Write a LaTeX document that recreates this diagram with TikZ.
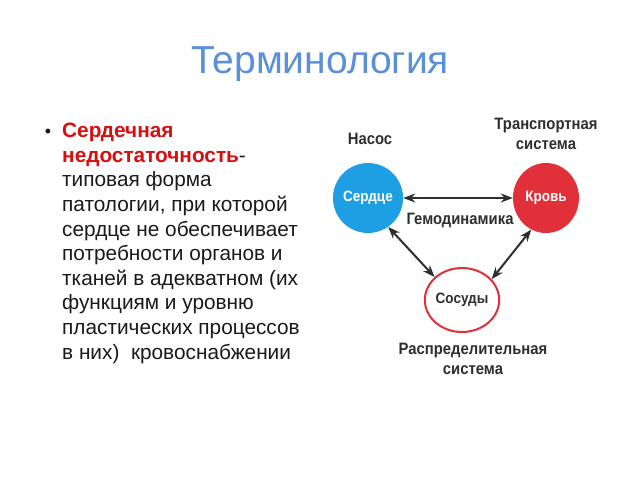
\documentclass[tikz,border=0pt]{standalone}
\usepackage{fontspec}
\setmainfont{Liberation Sans}
\newfontfamily\diagfont[FakeStretch=0.9]{Liberation Sans}
\usetikzlibrary{arrows.meta,shapes.geometric}
\definecolor{titleblue}{HTML}{5B8FD8}
\definecolor{hred}{HTML}{D80F0F}
\definecolor{cblue}{HTML}{1E9FE3}
\definecolor{cred}{HTML}{E2303A}
\definecolor{dtext}{HTML}{2E2E2E}
\definecolor{btext}{HTML}{1A1A1A}
\tikzset{
  lbl/.style={font=\diagfont\bfseries\fontsize{16.5}{20}\selectfont, text=dtext, align=center, inner sep=0pt},
  circ/.style={ellipse, inner sep=0pt, font=\diagfont\bfseries\fontsize{15}{18}\selectfont},
  conn/.style={{Stealth[length=12pt,width=9pt]}-{Stealth[length=12pt,width=9pt]}, line width=2pt, draw=dtext},
}
\begin{document}
\begin{tikzpicture}[x=1pt,y=-1pt]
\useasboundingbox (0,0) rectangle (640,480);
\fill[white] (0,0) rectangle (640,480);
\node[anchor=base, text=titleblue, font=\fontsize{39}{44}\selectfont, inner sep=0pt] (title) at (320,73) {Терминология};
\node[anchor=base, font=\fontsize{18}{22}\selectfont, inner sep=0pt, text=btext] (bul) at (48,137) {•};
\node[anchor=base west, inner sep=0pt, align=left, text=btext, font=\fontsize{20.8}{24.6}\selectfont] (txt) at (62,359)
{\textcolor{hred}{\bfseries Сердечная}\\
\textcolor{hred}{\bfseries недостаточность}-\\
типовая форма\\
патологии, при которой\\
сердце не обеспечивает\\
потребности органов и\\
тканей в адекватном (их\\
функциям и уровню\\
пластических процессов\\
в них)\ \ кровоснабжении};
% circles
\node[circ, minimum width=66pt, minimum height=70pt, fill=cblue, text=white] (heart) at (368,198) {Сердце};
\node[circ, minimum width=66pt, minimum height=70pt, fill=cred, text=white] (blood) at (546,198) {Кровь};
\node[circ, minimum width=60pt, minimum height=64pt, draw=cred, line width=2pt, fill=white, text=dtext] (vessels) at (462,300) {Сосуды};
% labels
\node[lbl] (pump) at (370,139) {Насос};
\node[lbl] (transp) at (546,134) {Транспортная\\система};
\node[lbl] (hemo) at (460,220) {Гемодинамика};
\node[lbl] (distr) at (473,359) {Распределительная\\система};
% arrows
\draw[conn] (heart.east) -- (blood.west);
\draw[conn] (heart.-55) -- (vessels.140);
\draw[conn] (blood.-115) -- (vessels.35);
\end{tikzpicture}
\end{document}
